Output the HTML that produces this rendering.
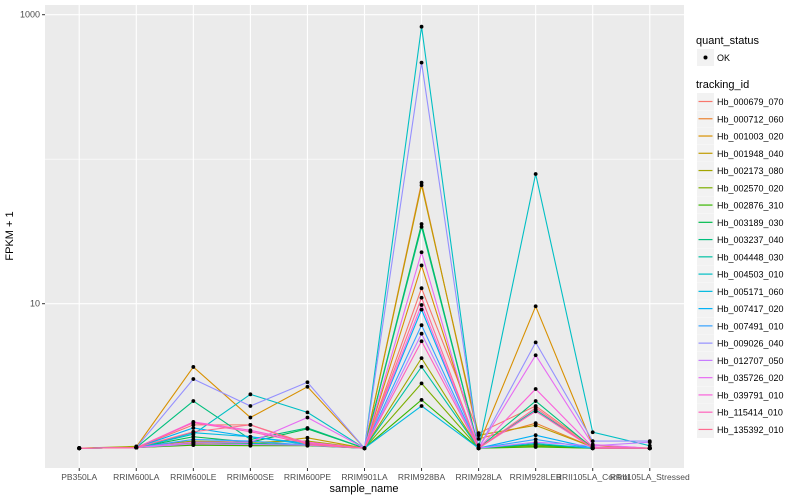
<!DOCTYPE html>
<html><head><meta charset="utf-8"><style>
html,body{margin:0;padding:0;background:#fff;}
svg{display:block;font-family:"Liberation Sans",sans-serif;}
</style></head><body>
<svg id="chart" width="800" height="500">
<rect x="45" y="5" width="639" height="463" fill="#EBEBEB"/>
<g id="grid"></g>
<g id="series"></g>
<g id="pts"></g>
<g id="axes"></g>
<text x="13" y="236" transform="rotate(-90 13 236)" text-anchor="middle" font-size="11" fill="#000">FPKM + 1</text>
<text x="364" y="492" text-anchor="middle" font-size="11" fill="#000">sample_name</text>
<g id="legend">
<text x="696" y="44" font-size="11" fill="#000">quant_status</text>
<rect x="697" y="49" width="17" height="17" fill="#F2F2F2"/>
<circle cx="705.5" cy="57.5" r="2" fill="#000"/>
<text x="717" y="61" font-size="9" fill="#000">OK</text>
<text x="696" y="88" font-size="11" fill="#000">tracking_id</text>
</g>
</svg>
<script>
const samples = ["PB350LA","RRIM600LA","RRIM600LE","RRIM600SE","RRIM600PE","RRIM901LA","RRIM928BA","RRIM928LA","RRIM928LEB","RRII105LA_Control","RRII105LA_Stressed"];
const trackingIds = ["Hb_000679_070","Hb_000712_060","Hb_001003_020","Hb_001948_040","Hb_002173_080","Hb_002570_020","Hb_002876_310","Hb_003189_030","Hb_003237_040","Hb_004448_030","Hb_004503_010","Hb_005171_060","Hb_007417_020","Hb_007491_010","Hb_009026_040","Hb_012707_050","Hb_035726_020","Hb_039791_010","Hb_115414_010","Hb_135392_010"];
const colors = ["#F8766D","#EA8331","#D89000","#C09B00","#A3A500","#7CAE00","#39B600","#00BB4E","#00BF7D","#00C1A3","#00BFC4","#00BAE0","#00B0F6","#35A2FF","#9590FF","#C77CFF","#E76BF3","#FA62DB","#FF62BC","#FF6C91"];
const seriesValues = [
 [1,1.01,1.45,1.45,1.08,1,12.8,1.27,1.96,1.02,1],
 [1,1.01,1.1,1.08,1.06,1,68.8,1.16,1.49,1.02,1],
 [1,1.02,3.65,1.63,2.66,1,18.4,1.05,9.6,1.05,1],
 [1,1.01,1.08,1.06,1.18,1,66,1.23,1.44,1.02,1],
 [1,1.03,1.12,1.1,1.12,1,4.2,1,1.05,1,1],
 [1,1.01,1.06,1.05,1.05,1,2.81,1,1.03,1,1],
 [1,1.01,1.05,1.04,1.04,1,2.16,1,1.02,1,1],
 [1,1.01,1.2,1.1,1.36,1,35.6,1,1.06,1,1],
 [1,1.01,2.12,1.15,1.38,1,34,1,2.12,1,1],
 [1,1.01,1.1,1.08,1.05,1,3.66,1,1.84,1,1],
 [1,1.01,1.25,2.36,1.77,1,826,1,79,1.29,1.04],
 [1,1.01,1.28,1.2,1.06,1,1.96,1,1.08,1,1],
 [1,1.01,1.38,1.2,1.08,1,9.1,1,1.23,1,1],
 [1,1.01,1.15,1.12,1.05,1,7.1,1,1.15,1,1],
 [1,1.01,3.01,1.96,2.86,1,466,1,5.4,1.12,1.12],
 [1,1.01,1.07,1.06,1.05,1,6.2,1,1.1,1.04,1.1],
 [1,1.01,1.1,1.1,1.63,1,22.7,1,4.4,1.06,1],
 [1,1.01,1.52,1.33,1.1,1,9.8,1,2.57,1.02,1],
 [1,1.01,1.5,1.3,1.08,1,5.5,1,1.8,1,1],
 [1,1.01,1.3,1.45,1.06,1,11,1,1.9,1,1]
];
const yTicks = [10,1000];
const yTickLabels = ["10","1000"];
const yMinor = [100];

const NS="http://www.w3.org/2000/svg";
const panelLeft=45,panelRight=684,panelTop=5,panelBottom=468;
const xStep=(panelRight-panelLeft)/(samples.length-1+1.2);
function xScale(i){return panelLeft+0.6*xStep+i*xStep;}
function yScale(v){return 448.2-144.5*Math.log10(v);}
function mk(tag,attrs,parent){const e=document.createElementNS(NS,tag);for(const k in attrs)e.setAttribute(k,attrs[k]);parent.appendChild(e);return e;}
const grid=document.getElementById('grid'),ser=document.getElementById('series'),pts=document.getElementById('pts'),axes=document.getElementById('axes'),leg=document.getElementById('legend');
yMinor.forEach(v=>{const l=mk('line',{x1:panelLeft,x2:panelRight,y1:yScale(v),y2:yScale(v),stroke:'#fff','stroke-width':0.55},grid);

});
yTicks.forEach((v,i)=>{const y=yScale(v);
const l=mk('line',{x1:panelLeft,x2:panelRight,y1:y,y2:y,stroke:'#fff','stroke-width':1.1},grid);


const t=mk('line',{x1:panelLeft-3,x2:panelLeft,y1:y,y2:y,stroke:'#333','stroke-width':1},axes);


const tx=mk('text',{x:panelLeft-5,y:y+3,'text-anchor':'end','font-size':9,fill:'#4D4D4D'},axes);tx.textContent=yTickLabels[i];

});
samples.forEach((s,i)=>{const x=xScale(i);
const l=mk('line',{x1:x,x2:x,y1:panelTop,y2:panelBottom,stroke:'#fff','stroke-width':1.1},grid);


const t=mk('line',{x1:x,x2:x,y1:panelBottom,y2:panelBottom+3,stroke:'#333','stroke-width':1},axes);


const tx=mk('text',{x:x,y:480,'text-anchor':'middle','font-size':8.5,fill:'#4D4D4D'},axes);tx.textContent=s;

});
seriesValues.forEach((vals,k)=>{
const d=vals.map((v,i)=>(i?'L':'M')+xScale(i).toFixed(2)+','+yScale(v).toFixed(2)).join(' ');
const p=mk('path',{d:d,fill:'none',stroke:colors[k],'stroke-width':1.1},ser);


vals.forEach((v,i)=>{const c=mk('circle',{cx:xScale(i),cy:yScale(v),r:1.9,fill:'#000'},pts);

});
const ky=93+k*17.26;
const kb=mk('rect',{x:697,y:ky,width:17,height:17,fill:'#F2F2F2'},leg);


const kl=mk('line',{x1:698.5,x2:712.5,y1:ky+8.5,y2:ky+8.5,stroke:colors[k],'stroke-width':1.2},leg);


const lt=mk('text',{x:717,y:ky+12,'font-size':9,fill:'#000'},leg);lt.textContent=trackingIds[k];


});
</script>
</body></html>
